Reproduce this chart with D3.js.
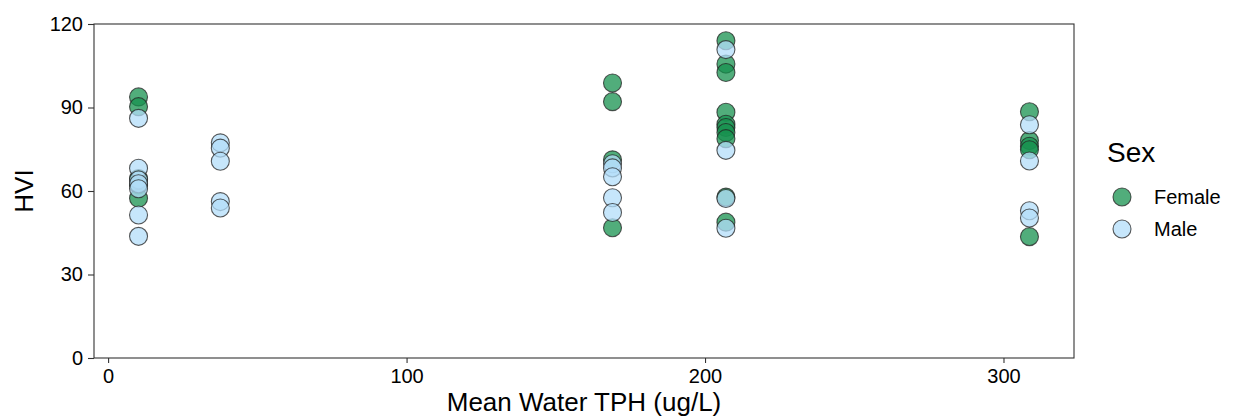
<!DOCTYPE html>
<html>
<head>
<meta charset="utf-8">
<script src="https://cdn.jsdelivr.net/npm/d3@7"></script>
<style>
  body { margin: 0; background: #fff; }
  svg { display: block; font-family: "Liberation Sans", Arial, Helvetica, sans-serif; }
</style>
</head>
<body>
<svg id="chart" width="1234" height="418"></svg>
<script>
// ---- data ----
const tphLevels = [10.2, 37.6, 169.0, 207.0, 308.7];
const femaleTPH = [10.2,10.2,10.2,10.2,10.2, 169.0,169.0,169.0,169.0,
                   207.0,207.0,207.0,207.0,207.0,207.0,207.0,207.0,207.0,207.0,
                   308.7,308.7,308.7,308.7,308.7];
const femaleHVI = [93.8, 90.3, 64.5, 62.2, 57.4, 98.8, 92.1, 71.2, 46.8,
                   114.0, 105.6, 102.6, 88.3, 84.0, 82.8, 81.0, 78.8, 57.8, 48.8,
                   88.5, 78.1, 76.1, 74.8, 43.6];
const maleTPH = [10.2,10.2,10.2,10.2,10.2,10.2,10.2,
                 37.6,37.6,37.6,37.6,37.6,
                 169.0,169.0,169.0,169.0,169.0,
                 207.0,207.0,207.0,207.0,
                 308.7,308.7,308.7,308.7];
const maleHVI = [86.1, 68.2, 64.0, 62.6, 60.8, 51.4, 43.7,
                 77.3, 75.4, 70.7, 56.2, 53.9,
                 69.8, 68.3, 65.1, 57.6, 52.3,
                 110.8, 74.6, 57.3, 46.6,
                 83.8, 70.8, 52.9, 50.3];
const xTicks = [0, 100, 200, 300];
const yTicks = [0, 30, 60, 90, 120];
const sexLabels = ["Female", "Male"];
const sexColors = ["#17924f", "#b3def9"];

// ---- layout ----
const svg = d3.select("#chart");
const panel = {left: 94, top: 24, right: 1074, bottom: 358};

const xMin = d3.min(tphLevels), xMax = d3.max(tphLevels);
const xPad = (xMax - xMin) * 0.05;
const x = d3.scaleLinear().domain([xMin - xPad, xMax + xPad]).range([panel.left, panel.right]);
const y = d3.scaleLinear().domain([0, 120]).range([panel.bottom, panel.top]);
const color = d3.scaleOrdinal().domain(sexLabels).range(sexColors);

// panel border
svg.append("rect")
  .attr("x", panel.left).attr("y", panel.top)
  .attr("width", panel.right - panel.left).attr("height", panel.bottom - panel.top)
  .attr("fill", "none").attr("stroke", "#333").attr("stroke-width", 1.1);

// axes
const xAxis = svg.append("g").attr("transform", `translate(0,${panel.bottom})`)
  .call(d3.axisBottom(x).tickValues(xTicks).tickSize(5).tickPadding(6).tickFormat(d3.format("d")));
const yAxis = svg.append("g").attr("transform", `translate(${panel.left},0)`)
  .call(d3.axisLeft(y).tickValues(yTicks).tickSize(6).tickPadding(5).tickFormat(d3.format("d")));
[xAxis, yAxis].forEach(g => {
  g.select(".domain").remove();
  g.selectAll(".tick line").attr("stroke", "#333").attr("stroke-width", 1.1);
  g.selectAll(".tick text").attr("fill", "#000").style("font-size", "20px");
});

// axis titles
svg.append("text").attr("x", (panel.left + panel.right) / 2).attr("y", 411)
  .attr("text-anchor", "middle").style("font-size", "26px").text("Mean Water TPH (ug/L)");
svg.append("text").attr("transform", `translate(33,${(panel.top + panel.bottom) / 2}) rotate(-90)`)
  .attr("text-anchor", "middle").style("font-size", "26px").text("HVI");

// points
const pts = [];
femaleTPH.forEach((t, i) => pts.push({sex: "Female", tph: t, hvi: femaleHVI[i]}));
maleTPH.forEach((t, i) => pts.push({sex: "Male", tph: t, hvi: maleHVI[i]}));
svg.append("g").selectAll("circle").data(pts).join("circle")
  .attr("cx", d => x(d.tph)).attr("cy", d => y(d.hvi)).attr("r", 9)
  .attr("fill", d => color(d.sex)).attr("fill-opacity", 0.75)
  .attr("stroke", "#222").attr("stroke-opacity", 0.75).attr("stroke-width", 1.1);

// legend
const lg = svg.append("g");
lg.append("text").attr("x", 1107).attr("y", 162).style("font-size", "28px").text("Sex");
sexLabels.forEach((s, i) => {
  const cy = 197 + i * 32;
  lg.append("circle").attr("cx", 1122).attr("cy", cy).attr("r", 9)
    .attr("fill", color(s)).attr("fill-opacity", 0.75)
    .attr("stroke", "#222").attr("stroke-opacity", 0.75).attr("stroke-width", 1.1);
  lg.append("text").attr("x", 1154).attr("y", cy + 7).style("font-size", "20px").text(s);
});
</script>
</body>
</html>
